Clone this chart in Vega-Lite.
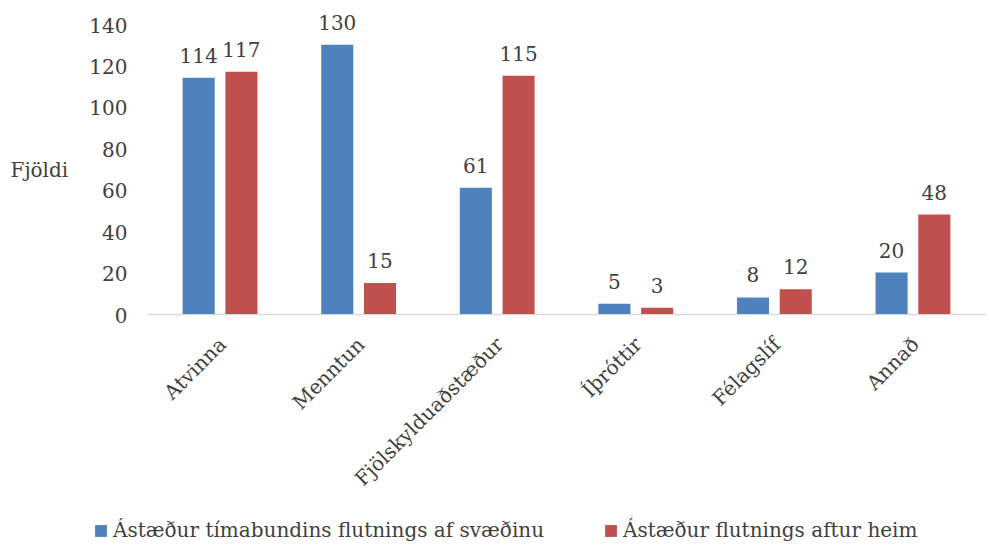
{
  "$schema": "https://vega.github.io/schema/vega-lite/v6.json",
  "width": 837,
  "height": 290,
  "autosize": {"type": "none"},
  "padding": {"left": 148, "top": 24, "right": 4, "bottom": 232},
  "background": "white",
  "config": {
    "view": {"stroke": null},
    "font": "DejaVu Serif",
    "axis": {"labelFont": "DejaVu Serif", "titleFont": "DejaVu Serif"},
    "legend": {"labelFont": "DejaVu Serif"},
    "text": {"font": "DejaVu Serif"}
  },
  "data": {
    "values": [
      {"cat": "Atvinna", "series": "Ástæður tímabundins flutnings af svæðinu", "value": 114},
      {"cat": "Atvinna", "series": "Ástæður flutnings aftur heim", "value": 117},
      {"cat": "Menntun", "series": "Ástæður tímabundins flutnings af svæðinu", "value": 130},
      {"cat": "Menntun", "series": "Ástæður flutnings aftur heim", "value": 15},
      {"cat": "Fjölskylduaðstæður", "series": "Ástæður tímabundins flutnings af svæðinu", "value": 61},
      {"cat": "Fjölskylduaðstæður", "series": "Ástæður flutnings aftur heim", "value": 115},
      {"cat": "Íþróttir", "series": "Ástæður tímabundins flutnings af svæðinu", "value": 5},
      {"cat": "Íþróttir", "series": "Ástæður flutnings aftur heim", "value": 3},
      {"cat": "Félagslíf", "series": "Ástæður tímabundins flutnings af svæðinu", "value": 8},
      {"cat": "Félagslíf", "series": "Ástæður flutnings aftur heim", "value": 12},
      {"cat": "Annað", "series": "Ástæður tímabundins flutnings af svæðinu", "value": 20},
      {"cat": "Annað", "series": "Ástæður flutnings aftur heim", "value": 48}
    ]
  },
  "encoding": {
    "x": {
      "field": "cat", "type": "nominal", "sort": null,
      "scale": {"paddingInner": 0.46, "paddingOuter": 0.25},
      "axis": {
        "title": null, "labelAngle": -45, "labelAlign": "right", "labelBaseline": "top",
        "labelFontSize": 20, "labelColor": "#404040", "labelPadding": 20, "labelOffset": -4,
        "ticks": false, "domainColor": "#d9d9d9", "domainWidth": 1.5, "labelLimit": 0
      }
    },
    "xOffset": {
      "field": "series", "type": "nominal", "sort": null,
      "scale": {"paddingInner": 0.25}
    },
    "y": {
      "field": "value", "type": "quantitative",
      "scale": {"domain": [0, 140]},
      "axis": {
        "values": [0, 20, 40, 60, 80, 100, 120, 140],
        "grid": false, "ticks": false, "domain": false,
        "labelFontSize": 20, "labelColor": "#404040", "labelPadding": 21, "labelBaseline": "middle", "labelOffset": 2,
        "title": "Fjöldi", "titleAngle": 0, "titleFontSize": 20, "titleFontWeight": "normal",
        "titleColor": "#404040", "titleAlign": "left", "titleBaseline": "middle",
        "titleX": -138, "titleY": 146
      }
    }
  },
  "layer": [
    {
      "mark": {"type": "bar"},
      "encoding": {
        "color": {
          "field": "series", "type": "nominal", "sort": null,
          "scale": {"range": ["#4F81BD", "#C0504D"]},
          "legend": {
            "title": null, "orient": "none", "direction": "horizontal",
            "legendX": -57, "legendY": 497,
            "symbolType": "square", "symbolSize": 140, "symbolStrokeWidth": 0,
            "labelFontSize": 20, "labelColor": "#404040", "columnPadding": 56,
            "labelOffset": 2, "labelLimit": 0
          }
        }
      }
    },
    {
      "mark": {"type": "text", "baseline": "alphabetic", "dy": -15, "fontSize": 20, "color": "#404040", "font": "DejaVu Serif"},
      "encoding": {"text": {"field": "value", "type": "quantitative"}}
    }
  ]
}
